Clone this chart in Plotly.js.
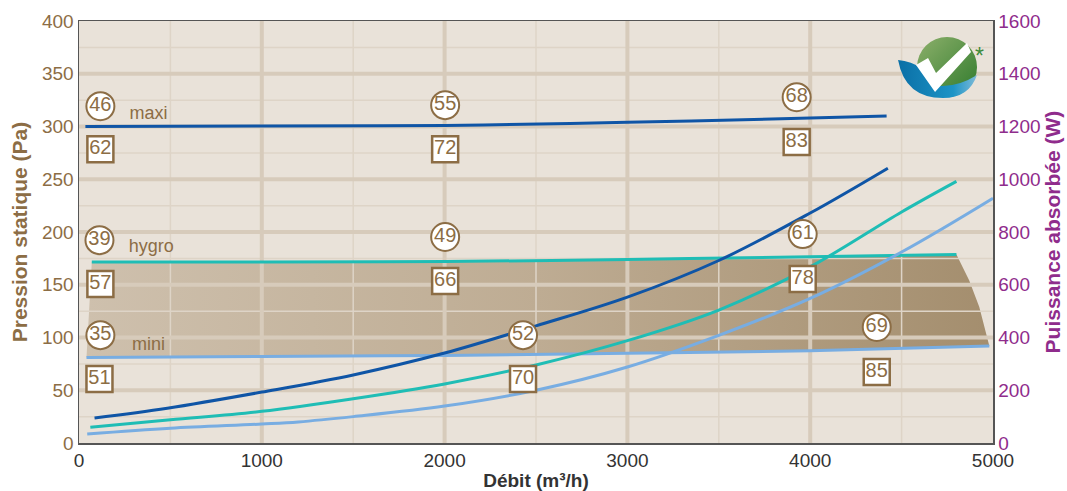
<!DOCTYPE html>
<html><head><meta charset="utf-8">
<script src="https://cdn.plot.ly/plotly-3.0.1.min.js"></script>
<style>html,body{margin:0;padding:0;background:#fff}#c{width:1067px;height:491px}</style>
</head><body><div id="c"></div>
<script>
// Static pressure curves (Pa)
const maxiX=[35,1000,2000,3000,4000,4418], maxiY=[300,300.5,301,304,308,310];
const hygroX=[70,1000,2000,3000,4000,4800], hygroY=[171.5,171.5,172,174,176.5,178.6];
const miniX=[41,1000,2000,3000,4000,4980], miniY=[81,82,83,85,87.5,92];
// Right-hand edge of the shaded operating zone (Pa)
const edgeX=[4800,4870,4925,4980], edgeY=[178.6,154,129,92];
// Absorbed power curves (W)
const darkX=[85,483,1000,1500,2000,2500,3000,3500,4000,4425], darkW=[95,132,193,258,341,444,553,692,872,1042];
const tealX=[62,500,1000,1500,2000,2500,3000,3500,4000,4500,4800], tealW=[60,88,120,168,224,296,388,504,668,876,992];
const lightX=[45,500,1000,1200,1500,2000,2500,3000,3500,4000,4500,5000], lightW=[34,56,72,80,100,140,200,288,408,548,724,928];
// Sound level badges (positions read on the power axis)
const circleX=[117,2003,3926,112,2003,3959,117,2429,4364], circleW=[1277,1281,1311,769,781,792,409,409,440], circleT=['46','55','68','39','49','61','35','52','69'];
const squareX=[117,2003,3926,117,2003,3959,112,2429,4364], squareW=[1114,1114,1141,603,614,622,243,243,269], squareT=['62','72','83','57','66','78','51','70','85'];
// Curve names
const nameX=[380,395,380], nameY=[311,185,92], nameT=['maxi','hygro','mini'];
// Axes
const xMajor=[1000,2000,3000,4000], xMinor=[500,1500,2500,3500,4500];
const yMajor=[50,100,150,200,250,300,350], yMinor=[25,75,125,175,225,275,325,375];
const xTicks=[0,1000,2000,3000,4000,5000], yTicks=[0,50,100,150,200,250,300,350,400], wTicks=[0,200,400,600,800,1000,1200,1400,1600];

const BROWN='#8C6D45', PURPLE='#8F2C8C', GRIDMAJOR='#D7CBBB', GRIDMINOR='#DED4C7', DARK='#0F55A6', TEAL='#1FBDB5', LIGHT='#78ADE2';
const FONT='"Liberation Sans", Arial, sans-serif';
const vLines=a=>({x:a.flatMap(v=>[v,v,null]),y:a.flatMap(()=>[0,400,null])});
const hLines=a=>({x:a.flatMap(()=>[0,5000,null]),y:a.flatMap(v=>[v,v,null])});
const grid=(p,w,c)=>({...p,mode:'lines',line:{color:c,width:w},hoverinfo:'skip',showlegend:false});
const curve=(x,y,c,ya)=>({x,y,mode:'lines',line:{color:c,width:3,shape:'spline',smoothing:1},yaxis:ya,hoverinfo:'skip',showlegend:false});

const zoneX=[...hygroX.slice(1),...edgeX.slice(1),...miniX.slice(1,-1).reverse(),miniX[0],hygroX[0]];
const zoneY=[...hygroY.slice(1),...edgeY.slice(1),...miniY.slice(1,-1).reverse(),miniY[0],hygroY[0]];

const traces=[
 {x:zoneX,y:zoneY,mode:'lines',line:{width:0},fill:'toself',
  fillgradient:{type:'horizontal',colorscale:[[0,'#CEC0AD'],[0.5,'#BEAC93'],[1,'#A48E6E']]},hoverinfo:'skip',showlegend:false},
 grid(vLines(xMinor),1.5,GRIDMINOR),grid(hLines(yMinor),1.5,GRIDMINOR),grid(vLines(xMajor),4,GRIDMAJOR),grid(hLines(yMajor),4,GRIDMAJOR),
 curve(maxiX,maxiY,DARK,'y'),curve(hygroX,hygroY,TEAL,'y'),curve(miniX,miniY,LIGHT,'y'),
 {x:nameX,y:nameY,text:nameT,mode:'text',textposition:'middle center',textfont:{family:FONT,size:18,color:BROWN},hoverinfo:'skip',showlegend:false},
 curve(darkX,darkW,DARK,'y2'),curve(tealX,tealW,TEAL,'y2'),curve(lightX,lightW,LIGHT,'y2'),
 {x:circleX,y:circleW,text:circleT,yaxis:'y2',mode:'markers+text',textposition:'middle center',
  marker:{symbol:'circle',size:28,color:'#fff',line:{color:BROWN,width:2}},textfont:{family:FONT,size:20,color:BROWN},hoverinfo:'skip',showlegend:false},
 {x:squareX,y:squareW,text:squareT,yaxis:'y2',mode:'markers+text',textposition:'middle center',
  marker:{symbol:'square',size:26,color:'#fff',line:{color:BROWN,width:2.5}},textfont:{family:FONT,size:20,color:BROWN},hoverinfo:'skip',showlegend:false}
];

const svg=`<svg xmlns="http://www.w3.org/2000/svg" width="360" height="280" viewBox="0 0 90 70"><defs><linearGradient id="g" x1="0" y1="0" x2="1" y2="1"><stop offset="0" stop-color="#8DB06B"/><stop offset="1" stop-color="#2F7A2C"/></linearGradient><linearGradient id="b" x1="0" y1="0" x2="1" y2="0"><stop offset="0" stop-color="#0A6FA6"/><stop offset="0.7" stop-color="#1D94C6"/><stop offset="1" stop-color="#7FBBD8"/></linearGradient></defs><circle cx="52" cy="34" r="30" fill="url(#g)"/><path d="M3 27Q16 28 28 36L38 52Q60 56 82 42Q74 65 48 65Q10 65 3 27Z" fill="url(#b)"/><path d="M21 32L33 25L41 40L72 10L76 19L40 59Z" fill="#fff"/></svg>`;

const layout={
 width:1067,height:491,margin:{l:78.5,r:74,t:21,b:48,pad:0},
 paper_bgcolor:'#fff',plot_bgcolor:'#E9E2D9',showlegend:false,
 xaxis:{range:[0,5000],tickvals:xTicks,ticks:'',showgrid:false,zeroline:false,showline:true,linecolor:'#555',linewidth:1.5,mirror:true,
  tickfont:{family:FONT,size:19,color:'#333'},title:{text:'Débit (m³/h)',font:{family:FONT,size:19,color:'#333',weight:'bold'},standoff:6}},
 yaxis:{range:[0,400],tickvals:yTicks,ticks:'',showgrid:false,zeroline:false,showline:true,linecolor:'#555',linewidth:1.5,
  tickfont:{family:FONT,size:19,color:BROWN},title:{text:'Pression statique (Pa)',font:{family:FONT,size:21,color:BROWN,weight:'bold'},standoff:8}},
 yaxis2:{range:[0,1600],tickvals:wTicks,overlaying:'y',side:'right',ticks:'',showgrid:false,zeroline:false,showline:true,linecolor:'#555',linewidth:1.5,
  tickfont:{family:FONT,size:19,color:PURPLE},title:{text:'Puissance absorbée (W)',font:{family:FONT,size:21,color:PURPLE,weight:'bold'},standoff:5}},
 images:[{source:'data:image/svg+xml;base64,'+btoa(svg),xref:'paper',yref:'paper',x:(895-78.5)/914.5,y:(443-33)/422,sizex:90/914.5,sizey:70/422,xanchor:'left',yanchor:'top',sizing:'stretch',layer:'above'}],
 annotations:[{text:'*',xref:'paper',yref:'paper',x:(985.5-78.5)/914.5,y:(443-41)/422,showarrow:false,font:{family:FONT,size:23,color:'#3E8A3A'}}]
};
Plotly.newPlot('c',traces,layout,{displayModeBar:false,staticPlot:true});
</script></body></html>
